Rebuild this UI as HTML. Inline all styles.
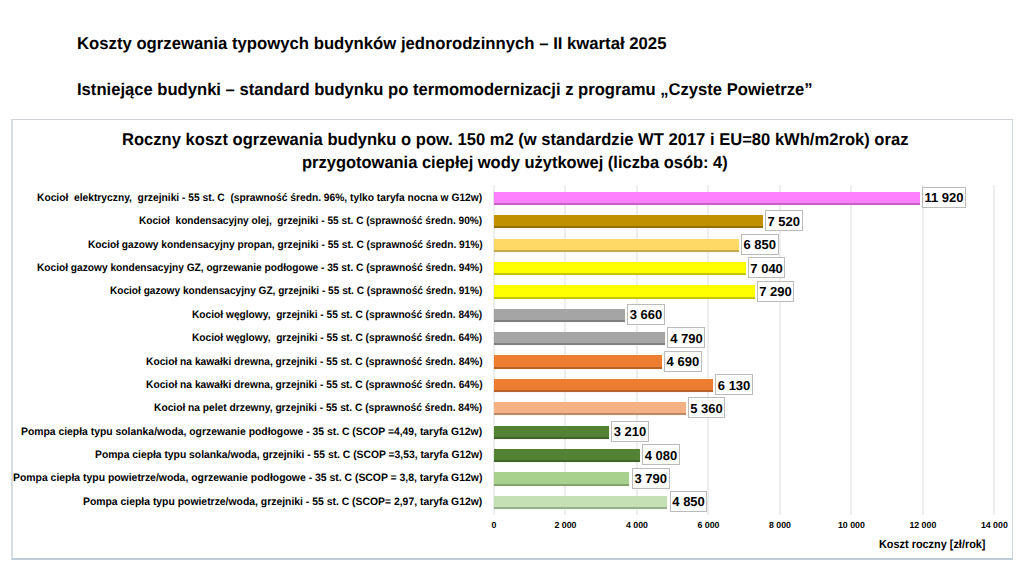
<!DOCTYPE html>
<html><head><meta charset="utf-8"><style>
html,body{margin:0;padding:0;background:#fff;}
body{width:1024px;height:576px;position:relative;overflow:hidden;font-family:"Liberation Sans",sans-serif;font-weight:bold;color:#000;text-rendering:geometricPrecision;}
.t{position:absolute;white-space:pre;transform-origin:0 0;}
.frame{position:absolute;left:11px;top:119px;width:999px;height:438px;border-style:solid;border-width:1px 1px 2px 2px;border-color:#CDD2D6 #CDD4DA #BFCDD9 #D8DDE2;background:#fff;}
.g{position:absolute;top:184.5px;height:330px;width:2px;background:#EEEEEE;}
.b{position:absolute;}
.v{position:absolute;height:19px;border:1px solid #BBBBBB;background:rgba(255,255,255,0.75);}
</style></head><body>
<div class="frame"></div>
<div class="g" style="left:493.00px"></div>
<div class="g" style="left:564.48px"></div>
<div class="g" style="left:635.97px"></div>
<div class="g" style="left:707.45px"></div>
<div class="g" style="left:778.93px"></div>
<div class="g" style="left:850.42px"></div>
<div class="g" style="left:921.90px"></div>
<div class="g" style="left:993.38px"></div>
<div class="t" style="left:76.87px;top:35px;font-size:17.0px;line-height:17.0px;transform:scaleX(0.9826)">Koszty ogrzewania typowych budynków jednorodzinnych – II kwartał 2025</div>
<div class="t" style="left:76.88px;top:81px;font-size:17.0px;line-height:17.0px;transform:scaleX(0.9769)">Istniejące budynki – standard budynku po termomodernizacji z programu „Czyste Powietrze”</div>
<div class="t" style="left:121.78px;top:131px;font-size:17.0px;line-height:17.0px;transform:scaleX(0.9750)">Roczny koszt ogrzewania budynku o pow. 150 m2 (w standardzie WT 2017 i EU=80 kWh/m2rok) oraz</div>
<div class="t" style="left:302.19px;top:154px;font-size:17.0px;line-height:17.0px;transform:scaleX(0.9693)">przygotowania ciepłej wody użytkowej (liczba osób: 4)</div>
<div class="t" style="left:37.29px;top:193px;font-size:10.75px;line-height:10.75px;transform:scaleX(0.9533)">Kocioł  elektryczny,  grzejniki - 55 st. C  (sprawność średn. 96%, tylko taryfa nocna w G12w)</div>
<div class="t" style="left:139.49px;top:216px;font-size:10.75px;line-height:10.75px;transform:scaleX(0.9416)">Kocioł  kondensacyjny olej,  grzejniki - 55 st. C (sprawność średn. 90%)</div>
<div class="t" style="left:87.89px;top:240px;font-size:10.75px;line-height:10.75px;transform:scaleX(0.9440)">Kocioł gazowy kondensacyjny propan, grzejniki - 55 st. C (sprawność średn. 91%)</div>
<div class="t" style="left:36.99px;top:263px;font-size:10.75px;line-height:10.75px;transform:scaleX(0.9453)">Kocioł gazowy kondensacyjny GZ, ogrzewanie podłogowe - 35 st. C (sprawność średn. 94%)</div>
<div class="t" style="left:110.30px;top:286px;font-size:10.75px;line-height:10.75px;transform:scaleX(0.9386)">Kocioł gazowy kondensacyjny GZ, grzejniki - 55 st. C (sprawność średn. 91%)</div>
<div class="t" style="left:192.29px;top:310px;font-size:10.75px;line-height:10.75px;transform:scaleX(0.9475)">Kocioł węglowy,  grzejniki - 55 st. C (sprawność średn. 84%)</div>
<div class="t" style="left:192.29px;top:333px;font-size:10.75px;line-height:10.75px;transform:scaleX(0.9475)">Kocioł węglowy,  grzejniki - 55 st. C (sprawność średn. 64%)</div>
<div class="t" style="left:146.09px;top:357px;font-size:10.75px;line-height:10.75px;transform:scaleX(0.9516)">Kocioł na kawałki drewna, grzejniki - 55 st. C (sprawność średn. 84%)</div>
<div class="t" style="left:146.09px;top:380px;font-size:10.75px;line-height:10.75px;transform:scaleX(0.9516)">Kocioł na kawałki drewna, grzejniki - 55 st. C (sprawność średn. 64%)</div>
<div class="t" style="left:154.39px;top:403px;font-size:10.75px;line-height:10.75px;transform:scaleX(0.9510)">Kocioł na pelet drzewny, grzejniki - 55 st. C (sprawność średn. 84%)</div>
<div class="t" style="left:21.38px;top:427px;font-size:10.75px;line-height:10.75px;transform:scaleX(0.9647)">Pompa ciepła typu solanka/woda, ogrzewanie podłogowe - 35 st. C (SCOP =4,49, taryfa G12w)</div>
<div class="t" style="left:95.18px;top:450px;font-size:10.75px;line-height:10.75px;transform:scaleX(0.9604)">Pompa ciepła typu solanka/woda, grzejniki - 55 st. C (SCOP =3,53, taryfa G12w)</div>
<div class="t" style="left:13.17px;top:473px;font-size:10.75px;line-height:10.75px;transform:scaleX(0.9686)">Pompa ciepła typu powietrze/woda, ogrzewanie podłogowe - 35 st. C (SCOP = 3,8, taryfa G12w)</div>
<div class="t" style="left:83.28px;top:497px;font-size:10.75px;line-height:10.75px;transform:scaleX(0.9666)">Pompa ciepła typu powietrze/woda, grzejniki - 55 st. C (SCOP= 2,97, taryfa G12w)</div>
<div class="t" style="left:878.80px;top:539px;font-size:11.75px;line-height:11.75px;transform:scaleX(0.9269)">Koszt roczny [zł/rok]</div>
<div class="b" style="left:494.0px;top:191.80px;width:426.04px;height:11.2px;background:#FF80FF;box-shadow:0 1.5px 0.6px #C663C6"></div>
<div class="v" style="left:922.24px;top:187.00px;width:41.85px"></div>
<div class="t" style="left:924.49px;top:191px;font-size:13.0px;line-height:13.0px">11 920</div>
<div class="b" style="left:494.0px;top:215.18px;width:268.78px;height:11.2px;background:#C09000;box-shadow:0 1.5px 0.6px #957000"></div>
<div class="v" style="left:764.98px;top:210.38px;width:35.60px"></div>
<div class="t" style="left:767.48px;top:215px;font-size:13.0px;line-height:13.0px">7 520</div>
<div class="b" style="left:494.0px;top:238.56px;width:244.83px;height:11.2px;background:#FFD966;box-shadow:0 1.5px 0.6px #C6A94F"></div>
<div class="v" style="left:741.03px;top:233.76px;width:35.60px"></div>
<div class="t" style="left:743.53px;top:238px;font-size:13.0px;line-height:13.0px">6 850</div>
<div class="b" style="left:494.0px;top:261.94px;width:251.62px;height:11.2px;background:#FFFF00;box-shadow:0 1.5px 0.6px #C6C600"></div>
<div class="v" style="left:747.82px;top:257.14px;width:35.60px"></div>
<div class="t" style="left:750.32px;top:262px;font-size:13.0px;line-height:13.0px">7 040</div>
<div class="b" style="left:494.0px;top:285.32px;width:260.56px;height:11.2px;background:#FFFF00;box-shadow:0 1.5px 0.6px #C6C600"></div>
<div class="v" style="left:756.76px;top:280.52px;width:35.60px"></div>
<div class="t" style="left:759.26px;top:285px;font-size:13.0px;line-height:13.0px">7 290</div>
<div class="b" style="left:494.0px;top:308.70px;width:130.81px;height:11.2px;background:#A5A5A5;box-shadow:0 1.5px 0.6px #808080"></div>
<div class="v" style="left:627.01px;top:303.90px;width:35.85px"></div>
<div class="t" style="left:629.76px;top:308px;font-size:13.0px;line-height:13.0px">3 660</div>
<div class="b" style="left:494.0px;top:332.08px;width:171.20px;height:11.2px;background:#A5A5A5;box-shadow:0 1.5px 0.6px #808080"></div>
<div class="v" style="left:667.40px;top:327.28px;width:35.85px"></div>
<div class="t" style="left:670.15px;top:332px;font-size:13.0px;line-height:13.0px">4 790</div>
<div class="b" style="left:494.0px;top:355.46px;width:167.63px;height:11.2px;background:#ED7D31;box-shadow:0 1.5px 0.6px #B86126"></div>
<div class="v" style="left:663.83px;top:350.66px;width:35.85px"></div>
<div class="t" style="left:666.58px;top:355px;font-size:13.0px;line-height:13.0px">4 690</div>
<div class="b" style="left:494.0px;top:378.84px;width:219.10px;height:11.2px;background:#ED7D31;box-shadow:0 1.5px 0.6px #B86126"></div>
<div class="v" style="left:715.30px;top:374.04px;width:35.60px"></div>
<div class="t" style="left:717.80px;top:379px;font-size:13.0px;line-height:13.0px">6 130</div>
<div class="b" style="left:494.0px;top:402.22px;width:191.58px;height:11.2px;background:#F4B183;box-shadow:0 1.5px 0.6px #BE8A66"></div>
<div class="v" style="left:687.78px;top:397.42px;width:35.60px"></div>
<div class="t" style="left:690.28px;top:402px;font-size:13.0px;line-height:13.0px">5 360</div>
<div class="b" style="left:494.0px;top:425.60px;width:114.73px;height:11.2px;background:#548235;box-shadow:0 1.5px 0.6px #416529"></div>
<div class="v" style="left:610.93px;top:420.80px;width:35.85px"></div>
<div class="t" style="left:613.68px;top:425px;font-size:13.0px;line-height:13.0px">3 210</div>
<div class="b" style="left:494.0px;top:448.98px;width:145.83px;height:11.2px;background:#548235;box-shadow:0 1.5px 0.6px #416529"></div>
<div class="v" style="left:642.03px;top:444.18px;width:35.85px"></div>
<div class="t" style="left:644.78px;top:449px;font-size:13.0px;line-height:13.0px">4 080</div>
<div class="b" style="left:494.0px;top:472.36px;width:135.46px;height:11.2px;background:#A9D18E;box-shadow:0 1.5px 0.6px #83A36E"></div>
<div class="v" style="left:631.66px;top:467.56px;width:35.85px"></div>
<div class="t" style="left:634.41px;top:472px;font-size:13.0px;line-height:13.0px">3 790</div>
<div class="b" style="left:494.0px;top:495.74px;width:173.35px;height:11.2px;background:#C5E0B4;box-shadow:0 1.5px 0.6px #99AE8C"></div>
<div class="v" style="left:669.55px;top:490.94px;width:35.85px"></div>
<div class="t" style="left:672.30px;top:495px;font-size:13.0px;line-height:13.0px">4 850</div>
<div class="t" style="left:491.62px;top:521px;font-size:8.8px;line-height:8.8px">0</div>
<div class="t" style="left:554.48px;top:521px;font-size:8.8px;line-height:8.8px">2 000</div>
<div class="t" style="left:625.97px;top:521px;font-size:8.8px;line-height:8.8px">4 000</div>
<div class="t" style="left:697.45px;top:521px;font-size:8.8px;line-height:8.8px">6 000</div>
<div class="t" style="left:768.93px;top:521px;font-size:8.8px;line-height:8.8px">8 000</div>
<div class="t" style="left:837.92px;top:521px;font-size:8.8px;line-height:8.8px">10 000</div>
<div class="t" style="left:909.40px;top:521px;font-size:8.8px;line-height:8.8px">12 000</div>
<div class="t" style="left:980.88px;top:521px;font-size:8.8px;line-height:8.8px">14 000</div>
</body></html>
